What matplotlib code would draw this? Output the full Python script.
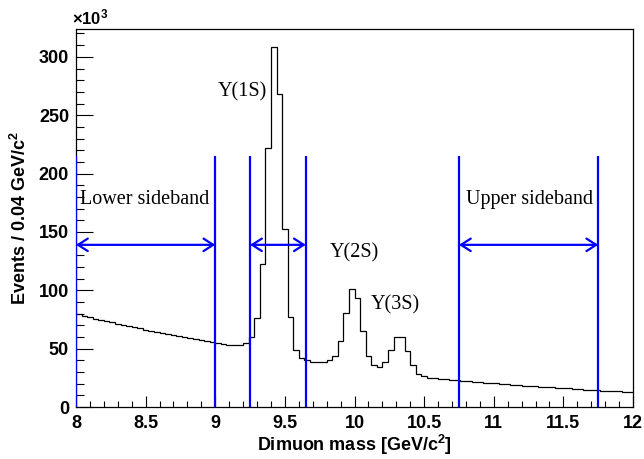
import numpy as np
import matplotlib
matplotlib.use("Agg")
from matplotlib import pyplot as plt
from matplotlib.ticker import MultipleLocator, FormatStrFormatter

plt.rcParams['font.family'] = ['Liberation Sans', 'DejaVu Sans']
plt.rcParams['mathtext.fontset'] = 'custom'
plt.rcParams['mathtext.rm'] = 'Liberation Sans'
plt.rcParams['mathtext.bf'] = 'Liberation Sans:bold'

# histogram: 100 bins of 0.04 GeV between 8 and 12 GeV (events in thousands)
mass_lo = 8.0
mass_hi = 12.0
bin_width = 0.04
counts = [
    # 8.00 - 8.96
    79.5, 78.3, 77.1, 75.9, 74.8, 73.7, 72.6, 71.5, 70.4, 69.4,
    68.4, 67.4, 66.4, 65.4, 64.4, 63.5, 62.6, 61.7, 60.8, 59.9,
    59.0, 58.2, 57.4, 56.6, 55.8,
    # 9.00 - 9.20
    54.6, 53.9, 53.4, 53.2, 53.6, 55.3,
    # 9.24 - 9.60  (1S)
    60.3, 76.5, 122.8, 222.0, 308.5, 268.5, 152.7, 77.0, 49.0, 41.8,
    # 9.64 - 10.52 (2S, 3S)
    40.0, 38.8, 38.4, 38.5, 40.4, 43.4, 56.5, 80.5, 101.3, 93.5,
    65.0, 43.4, 35.7, 34.3, 38.5, 49.0, 60.0, 60.0, 48.5, 35.7,
    28.8, 26.3, 25.0,
    # 10.56 - 11.96
    24.6, 24.2, 23.8, 23.4, 23.0, 22.6, 22.2, 21.8, 21.4, 21.0,
    20.7, 20.3, 19.9, 19.6, 19.2, 18.9, 18.5, 18.2, 17.9, 17.5,
    17.2, 16.9, 16.6, 16.3, 16.0, 15.7, 15.4, 15.1, 14.8, 14.5,
    14.2, 13.9, 13.6, 13.4, 13.1, 12.9,
]
edges = np.linspace(mass_lo, mass_hi, len(counts) + 1)

# sideband / signal window boundaries
cut_lines = [9.0, 9.25, 9.65, 10.75, 11.75]
cut_top = 215.0
windows = [(8.0, 9.0), (9.25, 9.65), (10.75, 11.75)]
arrow_y = 139.0

labels = ["Lower sideband", "Upper sideband", "Y(1S)", "Y(2S)", "Y(3S)"]
label_x = [8.03, 10.8, 9.02, 9.82, 10.12]
label_y = [178, 178, 270, 132, 88]

fig = plt.figure(figsize=(6.44, 4.59), dpi=100)
ax = fig.add_axes([0.118, 0.113, 0.865, 0.824])

ax.stairs(counts, edges, baseline=None, color='black', linewidth=0.9, zorder=2)

blue = '#0000ff'
for xc in [mass_lo] + cut_lines:
    ax.plot([xc, xc], [0, cut_top], color=blue, linewidth=1.6, zorder=3,
            solid_capstyle='butt')
for a, b in windows:
    ax.annotate('', xy=(a, arrow_y), xytext=(b, arrow_y),
                arrowprops=dict(arrowstyle='<->, head_length=0.7, head_width=0.45',
                                color=blue, linewidth=1.6,
                                shrinkA=0, shrinkB=0), zorder=3)

for t, x, y in zip(labels, label_x, label_y):
    ax.text(x, y, t, fontsize=14.5, family='Liberation Serif',
            ha='left', va='center')

ax.set_xlim(mass_lo, mass_hi)
ax.set_ylim(0, 1.05 * max(counts))

ax.xaxis.set_major_locator(MultipleLocator(0.5))
ax.xaxis.set_minor_locator(MultipleLocator(0.1))
ax.xaxis.set_major_formatter(FormatStrFormatter('%g'))
ax.yaxis.set_major_locator(MultipleLocator(50))
ax.yaxis.set_minor_locator(MultipleLocator(10))
ax.tick_params(axis='both', which='both', direction='in', top=False, right=False,
               width=0.8)
ax.tick_params(axis='x', which='major', length=8, pad=6)
ax.tick_params(axis='x', which='minor', length=4)
ax.tick_params(axis='y', which='major', length=12, pad=5)
ax.tick_params(axis='y', which='minor', length=6)
for lab in ax.get_xticklabels() + ax.get_yticklabels():
    lab.set_fontsize(13)
    lab.set_fontweight('bold')

for s in ax.spines.values():
    s.set_linewidth(0.9)

ax.set_xlabel(r'Dimuon mass [GeV/c$^{\mathbf{2}}$]', fontsize=13,
              fontweight='bold', labelpad=0)
ax.set_ylabel(r'Events / 0.04 GeV/c$^{\mathbf{2}}$', fontsize=13,
              fontweight='bold', labelpad=6)
ax.text(-0.008, 1.005, r'$\mathbf{\times 10^{3}}$', transform=ax.transAxes,
        fontsize=12, ha='left', va='bottom')

fig.savefig('out.png', dpi=100)
